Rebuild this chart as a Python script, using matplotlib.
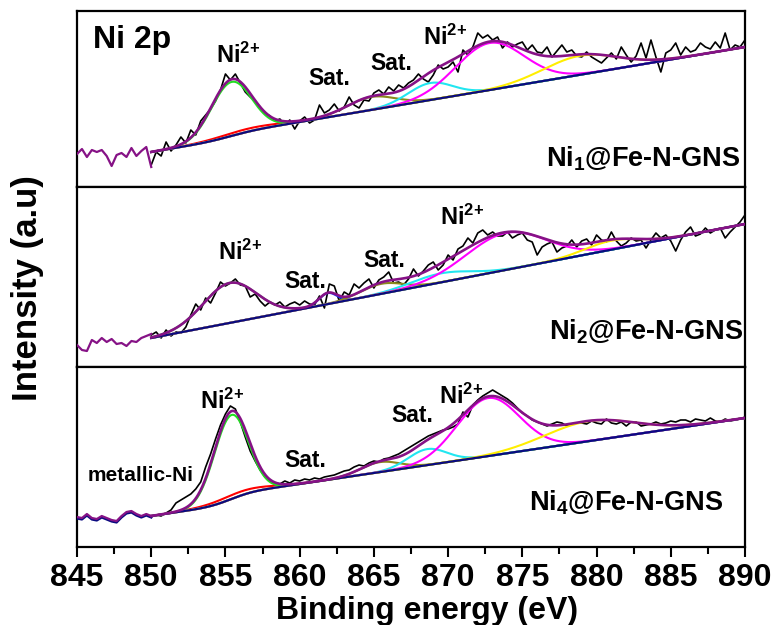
import numpy as np
import matplotlib
matplotlib.use('Agg')
import matplotlib.pyplot as plt
from matplotlib.ticker import MultipleLocator

plt.rcParams['font.family'] = ['Liberation Sans', 'DejaVu Sans']
plt.rcParams['font.weight'] = 'bold'
plt.rcParams['mathtext.fontset'] = 'custom'
plt.rcParams['mathtext.rm'] = 'Liberation Sans:bold'
plt.rcParams['mathtext.it'] = 'Liberation Sans:bold'
plt.rcParams['mathtext.bf'] = 'Liberation Sans:bold'

# ---- raw Ni 2p spectra (a.u.), sampled every 1/3 eV ----
# 845-850 eV: outside the fit window
ni1_pre = [33, 38, 30, 37, 35, 37, 31, 21, 32, 34, 30, 39, 31, 36, 40, 20]
ni2_pre = [22, 17, 16, 27, 24, 29, 25, 28, 23, 24, 21, 26, 25, 29, 31, 33]
ni4_pre = [30, 29, 33, 29, 28, 31, 29, 27, 26, 31, 35, 36, 33, 31, 33, 31]

# 850-890 eV: fitted region
ni1_raw = [22, 35, 31, 45, 36, 42, 50, 44, 57, 52,
           66, 72, 78, 86, 97, 113, 107, 113, 104, 95,
           90, 86, 80, 74, 71, 66, 68, 62, 67, 58,
           66, 70, 64, 67, 82, 74, 77, 83, 76, 80,
           90, 82, 79, 87, 86, 94, 97, 93, 100, 96,
           102, 99, 104, 107, 113, 108, 105, 112, 122, 118,
           120, 125, 115, 137, 132, 140, 154, 149, 152, 147,
           150, 139, 145, 140, 143, 145, 137, 142, 135, 134,
           140, 130, 136, 142, 135, 137, 131, 130, 135, 130,
           127, 124, 129, 134, 128, 140, 132, 125, 131, 144,
           129, 147, 130, 115, 134, 137, 144, 132, 140, 135,
           137, 144, 140, 138, 145, 139, 154, 137, 142, 140,
           147]
ni2_raw = [32, 35, 29, 37, 31, 35, 34, 40, 52, 63,
           57, 69, 64, 74, 85, 81, 84, 88, 82, 81,
           70, 73, 66, 61, 65, 62, 65, 60, 63, 65,
           62, 66, 63, 62, 71, 59, 83, 81, 66, 75,
           72, 83, 79, 84, 88, 79, 87, 90, 95, 84,
           85, 82, 88, 98, 91, 96, 102, 105, 97, 102,
           112, 107, 118, 121, 129, 124, 134, 137, 132, 135,
           131, 131, 135, 129, 132, 134, 127, 125, 112, 120,
           123, 125, 115, 119, 121, 127, 120, 126, 128, 122,
           132, 127, 125, 135, 126, 121, 124, 129, 126, 127,
           119, 127, 134, 129, 132, 126, 116, 127, 135, 140,
           131, 133, 139, 134, 137, 139, 129, 135, 140, 145,
           152]
ni4_raw = [30, 32, 31, 34, 37, 44, 47, 50, 53, 58,
           65, 80, 93, 108, 122, 133, 141, 138, 125, 110,
           96, 86, 77, 70, 66, 64, 63, 66, 64, 67,
           66, 68, 67, 69, 68, 70, 71, 72, 74, 76,
           77, 80, 82, 81, 84, 86, 85, 88, 89, 91,
           93, 96, 99, 102, 105, 108, 111, 113, 115, 117,
           118, 120, 123, 135, 130, 142, 147, 151, 154, 157,
           154, 151, 148, 144, 139, 134, 131, 127, 125, 123,
           121, 123, 125, 124, 121, 123, 124, 124, 123, 126,
           124, 123, 128, 124, 123, 125, 121, 125, 125, 121,
           122, 123, 125, 123, 124, 126, 125, 127, 127, 125,
           128, 127, 126, 129, 126, 125, 128, 126, 127, 128,
           130]

# ---- peak fitting results: component, centre (eV), height, sigma (eV) ----
ni1_comps = ['Ni0', 'Ni2+ 2p3/2', 'sat-a', 'sat-b', 'Ni2+ 2p1/2', 'sat-c']
ni1_centre = [856.5, 855.4, 864.8, 868.8, 872.8, 878.9]
ni1_height = [3, 54, 13, 17, 47, 19]
ni1_sigma = [2.3, 1.35, 1.6, 1.5, 2.3, 2.5]

ni2_comps = ['Ni2+ 2p3/2', 'sat-0', 'sat-a', 'sat-b', 'Ni2+ 2p1/2', 'sat-c']
ni2_centre = [855.3, 861.9, 865.5, 869.5, 873.9, 881.0]
ni2_height = [40, 11, 10, 9, 37, 9]
ni2_sigma = [1.8, 0.6, 1.4, 2.0, 2.7, 1.8]

ni4_comps = ['Ni0', 'Ni2+ 2p3/2', 'sat-a', 'sat-b', 'Ni2+ 2p1/2', 'sat-c']
ni4_centre = [856.0, 855.4, 865.4, 868.6, 872.7, 879.5]
ni4_height = [4, 84, 10, 16, 58, 20]
ni4_sigma = [2.0, 1.15, 1.3, 1.3, 2.1, 3.0]

# Shirley-type background: value at 850 eV, slope per eV, step under main peak
ni1_bg = [35, 2.5, 5]
ni2_bg = [29, 2.85, 0]
ni4_bg = [31, 2.2, 10]

COMP_COLORS = {'Ni0': '#ff0000', 'Ni2+ 2p3/2': '#22dd22', 'sat-0': '#1030ff',
               'sat-a': '#8c8a1c', 'sat-b': '#22e6f0', 'Ni2+ 2p1/2': '#ff00ff',
               'sat-c': '#ffee00'}
PURPLE = '#861286'
NAVY = '#0a0a80'
NI2 = 'Ni$^{2}$$^{+}$'


def gauss(x, c, h, s):
    return h * np.exp(-(x - c) ** 2 / (2 * s * s))


def draw_panel(ax, pre, raw, comps, centre, height, sigma, bg_par, bottom=False):
    e_pre = np.linspace(845, 850, len(pre))
    e_raw = np.linspace(850, 890, len(raw))
    x = np.linspace(850, 890, 801)

    peaks = [gauss(x, c, h, s) for c, h, s in zip(centre, height, sigma)]
    main = peaks[comps.index('Ni2+ 2p3/2')]
    bg = bg_par[0] + bg_par[1] * (x - 850) + bg_par[2] * np.cumsum(main) / main.sum()

    if bottom:
        ax.plot(e_pre, np.array(pre) - 1.5, color=NAVY, lw=1.6, zorder=4)
    ax.plot(e_pre, pre, color=PURPLE, lw=1.6, zorder=5)
    ax.plot(e_raw, raw, color='black', lw=1.2, zorder=2)
    for name, p in zip(comps, peaks):
        ax.plot(x, bg + p, color=COMP_COLORS[name], lw=1.5, zorder=3)
    ax.plot(x, bg, color=NAVY, lw=1.6, zorder=4)
    ax.plot(x, bg + np.sum(peaks, axis=0), color=PURPLE, lw=1.9, zorder=5)


fig, axes = plt.subplots(3, 1, figsize=(7.74, 6.25), dpi=100, sharex=True,
                         gridspec_kw=dict(height_ratios=[176, 180, 180], hspace=0))
fig.subplots_adjust(left=0.0995, right=0.9625, top=0.9824, bottom=0.1248)

ax1, ax2, ax3 = axes
draw_panel(ax1, ni1_pre, ni1_raw, ni1_comps, ni1_centre, ni1_height, ni1_sigma, ni1_bg)
draw_panel(ax2, ni2_pre, ni2_raw, ni2_comps, ni2_centre, ni2_height, ni2_sigma, ni2_bg)
draw_panel(ax3, ni4_pre, ni4_raw, ni4_comps, ni4_centre, ni4_height, ni4_sigma, ni4_bg,
           bottom=True)

for ax, top in zip(axes, [176, 180, 180]):
    ax.set_ylim(0, top)
    ax.set_yticks([])
    for sp in ax.spines.values():
        sp.set_linewidth(1.6)
    ax.tick_params(axis='x', which='both', bottom=False, labelbottom=False)

ax3.set_xlim(845, 890)
ax3.xaxis.set_major_locator(MultipleLocator(5))
ax3.xaxis.set_minor_locator(MultipleLocator(2.5))
ax3.tick_params(axis='x', which='both', bottom=True, labelbottom=True, direction='out')
ax3.tick_params(axis='x', which='major', length=7.5, width=1.5, labelsize=23, pad=4)
ax3.tick_params(axis='x', which='minor', length=5, width=1.5)

# labels: top panel
ax1.text(846.1, 147, 'Ni 2p', fontsize=23, va='center', ha='left')
ax1.text(855.9, 124, NI2, fontsize=17, ha='center', va='baseline')
ax1.text(862.0, 102, 'Sat.', fontsize=16.5, ha='center', va='baseline')
ax1.text(866.2, 117, 'Sat.', fontsize=16.5, ha='center', va='baseline')
ax1.text(869.8, 142, NI2, fontsize=17, ha='center', va='baseline')
ax1.text(889.7, 20, 'Ni$_1$@Fe-N-GNS', fontsize=19.5, ha='right', va='baseline')

# middle panel
ax2.text(856.0, 107, NI2, fontsize=17, ha='center', va='baseline')
ax2.text(860.4, 79, 'Sat.', fontsize=16.5, ha='center', va='baseline')
ax2.text(865.7, 100, 'Sat.', fontsize=16.5, ha='center', va='baseline')
ax2.text(871.0, 142, NI2, fontsize=17, ha='center', va='baseline')
ax2.text(889.9, 27, 'Ni$_2$@Fe-N-GNS', fontsize=19.5, ha='right', va='baseline')

# bottom panel
ax3.text(845.7, 66, 'metallic-Ni', fontsize=15, ha='left', va='baseline')
ax3.text(854.8, 138, NI2, fontsize=17, ha='center', va='baseline')
ax3.text(860.4, 80, 'Sat.', fontsize=16.5, ha='center', va='baseline')
ax3.text(867.6, 125, 'Sat.', fontsize=16.5, ha='center', va='baseline')
ax3.text(870.9, 143, NI2, fontsize=17, ha='center', va='baseline')
ax3.text(888.5, 36, 'Ni$_4$@Fe-N-GNS', fontsize=19.5, ha='right', va='baseline')

fig.text(0.552, 0.0096, 'Binding energy (eV)', fontsize=23, ha='center', va='baseline')
fig.text(0.036, 0.539, 'Intensity (a.u)', fontsize=25, rotation=90, ha='center', va='center')

fig.savefig('out.png', dpi=100)
